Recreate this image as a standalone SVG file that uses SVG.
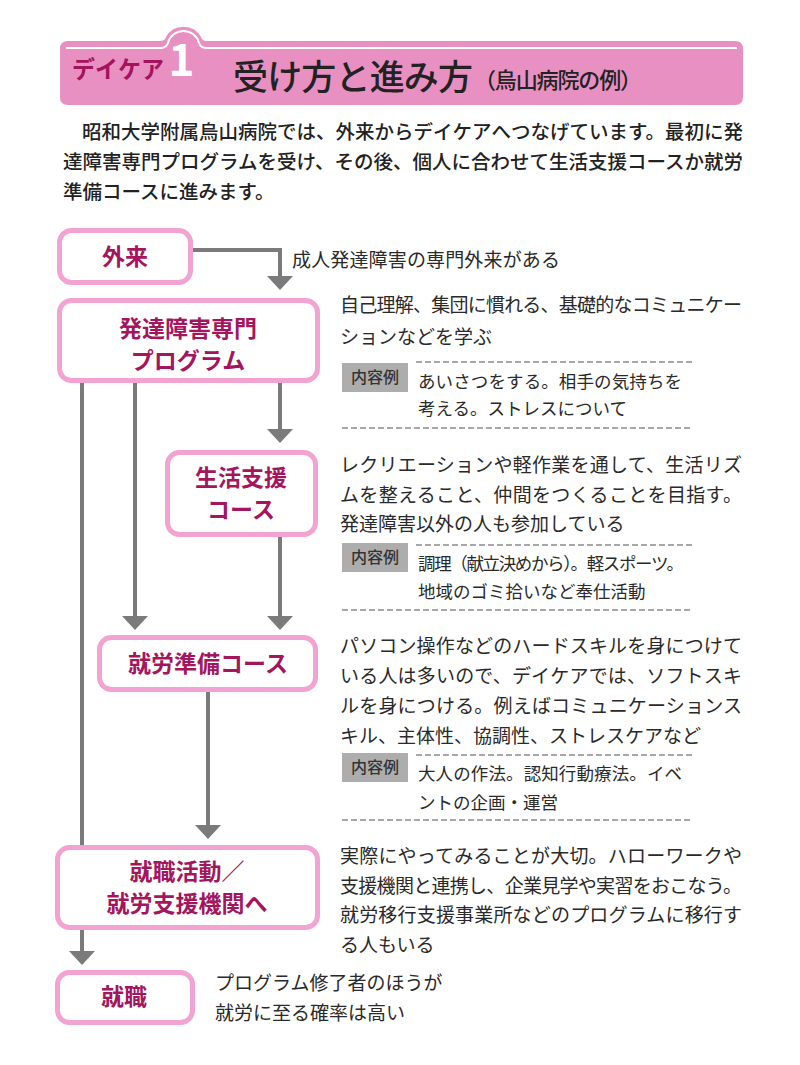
<svg xmlns="http://www.w3.org/2000/svg" width="800" height="1065" viewBox="0 0 800 1065">
<style>
text{font-family:"Noto Sans CJK JP","Noto Sans CJK SC",sans-serif}
.node{fill:#ffffff;stroke:#f3a3d1;stroke-width:5}
.lbl{fill:#a3165e;font-weight:700;font-size:23px;text-anchor:middle}
.desc{fill:#2a2a2a;font-size:19px}
.ex{fill:#2a2a2a;font-size:17.5px}
.intro{fill:#222;font-size:19.5px;font-weight:500}
.tag{fill:#adadad}
.tagt{fill:#333;font-size:16px;text-anchor:middle;font-weight:500}
.dash{stroke:#a8a8a8;stroke-width:2;stroke-dasharray:6 3;fill:none}
.conn{stroke:#7b7b7b;stroke-width:4;fill:none;marker-end:url(#ah)}
</style>
<defs>
<marker id="ah" viewBox="0 0 14 26" refX="6" refY="13" markerWidth="14" markerHeight="26" markerUnits="userSpaceOnUse" orient="auto">
<path d="M0,0 L14,13 L0,26 z" fill="#7b7b7b"/>
</marker>
</defs>
<rect width="800" height="1065" fill="#ffffff"/>

<g id="header">
<path d="M68,41 H160 Q165,41 166,37 A20,20 0 0 1 201,37 Q202,41 207,41 H735 Q743,41 743,49 V97 Q743,105 735,105 H68 Q60,105 60,97 V49 Q60,41 68,41 Z" fill="#e890c2"/>
<path d="M66,48 H161 Q166,48 168,43 A16,16 0 0 1 199,43 Q201,48 206,48 H737" stroke="#ffffff" stroke-width="2" fill="none"/>
<text x="72" y="78" fill="#a3135e" font-size="24" font-weight="700" textLength="92" lengthAdjust="spacingAndGlyphs">デイケア</text>
<text x="181.5" y="76" fill="#ffffff" font-size="44" font-weight="700" text-anchor="middle">1</text>
<text x="233" y="90" fill="#222" font-size="35" font-weight="500" textLength="240">受け方と進み方</text>
<text x="474" y="88" fill="#222" font-size="22" font-weight="500" textLength="168">（烏山病院の例）</text>
</g>

<g id="intro">
<text class="intro" x="82" y="139" textLength="661">昭和大学附属烏山病院では、外来からデイケアへつなげています。最初に発</text>
<text class="intro" x="63" y="169" textLength="680">達障害専門プログラムを受け、その後、個人に合わせて生活支援コースか就労</text>
<text class="intro" x="63" y="199">準備コースに進みます。</text>
</g>

<g id="connectors">
<path class="conn" d="M193,250 H280 V282"/>
<path class="conn" d="M280,383 V435"/>
<path class="conn" d="M280,537 V622"/>
<path class="conn" d="M135,383 V622"/>
<path class="conn" d="M208,692 V831"/>
<path class="conn" d="M82,383 V957"/>
</g>

<g id="n-gairai">
<rect class="node" x="59.5" y="230.5" width="131" height="52" rx="12"/>
<text class="lbl" x="125" y="265">外来</text>
</g>
<text class="desc" x="292" y="267" font-size="18.5" textLength="268">成人発達障害の専門外来がある</text>

<g id="n-program">
<rect class="node" x="59.5" y="300.5" width="258" height="80" rx="12"/>
<text class="lbl" x="188" y="337">発達障害専門</text>
<text class="lbl" x="188" y="369">プログラム</text>
</g>
<g id="d-program">
<text class="desc" x="340" y="312" textLength="402">自己理解、集団に慣れる、基礎的なコミュニケー</text>
<text class="desc" x="340" y="344">ションなどを学ぶ</text>
<line class="dash" x1="416" y1="362" x2="692" y2="362"/>
<rect class="tag" x="342" y="363" width="66" height="29"/>
<text class="tagt" x="375" y="383">内容例</text>
<text class="ex" x="418" y="388" textLength="264">あいさつをする。相手の気持ちを</text>
<text class="ex" x="418" y="415">考える。ストレスについて</text>
<line class="dash" x1="342" y1="428" x2="692" y2="428"/>
</g>

<g id="n-seikatsu">
<rect class="node" x="167.5" y="452.5" width="148" height="82" rx="12"/>
<text class="lbl" x="241" y="486">生活支援</text>
<text class="lbl" x="241" y="518">コース</text>
</g>
<g id="d-seikatsu">
<text class="desc" x="340" y="472" textLength="402">レクリエーションや軽作業を通して、生活リズ</text>
<text class="desc" x="340" y="502" textLength="402">ムを整えること、仲間をつくることを目指す。</text>
<text class="desc" x="340" y="531">発達障害以外の人も参加している</text>
<line class="dash" x1="416" y1="545" x2="692" y2="545"/>
<rect class="tag" x="342" y="543" width="66" height="29"/>
<text class="tagt" x="375" y="563">内容例</text>
<text class="ex" x="418" y="570" textLength="266">調理（献立決めから）。軽スポーツ。</text>
<text class="ex" x="418" y="598">地域のゴミ拾いなど奉仕活動</text>
<line class="dash" x1="342" y1="610" x2="692" y2="610"/>
</g>

<g id="n-shurou">
<rect class="node" x="99.5" y="637.5" width="216" height="52" rx="12"/>
<text class="lbl" x="208" y="672">就労準備コース</text>
</g>
<g id="d-shurou">
<text class="desc" x="340" y="653" textLength="402">パソコン操作などのハードスキルを身につけて</text>
<text class="desc" x="340" y="683" textLength="402">いる人は多いので、デイケアでは、ソフトスキ</text>
<text class="desc" x="340" y="713" textLength="402">ルを身につける。例えばコミュニケーションス</text>
<text class="desc" x="340" y="743">キル、主体性、協調性、ストレスケアなど</text>
<line class="dash" x1="416" y1="755" x2="692" y2="755"/>
<rect class="tag" x="342" y="753" width="66" height="29"/>
<text class="tagt" x="375" y="773">内容例</text>
<text class="ex" x="418" y="780" textLength="264">大人の作法。認知行動療法。イベ</text>
<text class="ex" x="418" y="809">ントの企画・運営</text>
<line class="dash" x1="342" y1="820" x2="692" y2="820"/>
</g>

<g id="n-katsudou">
<rect class="node" x="57.5" y="847.5" width="260" height="80" rx="12"/>
<text class="lbl" x="187" y="880">就職活動／</text>
<text class="lbl" x="187" y="912">就労支援機関へ</text>
</g>
<g id="d-katsudou">
<text class="desc" x="340" y="863" textLength="402">実際にやってみることが大切。ハローワークや</text>
<text class="desc" x="340" y="893" textLength="402">支援機関と連携し、企業見学や実習をおこなう。</text>
<text class="desc" x="340" y="922" textLength="402">就労移行支援事業所などのプログラムに移行す</text>
<text class="desc" x="340" y="952">る人もいる</text>
</g>

<g id="n-shushoku">
<rect class="node" x="57.5" y="972.5" width="135" height="50" rx="12"/>
<text class="lbl" x="124" y="1005">就職</text>
</g>
<g id="d-shushoku">
<text class="desc" x="215" y="990">プログラム修了者のほうが</text>
<text class="desc" x="215" y="1020">就労に至る確率は高い</text>
</g>
</svg>
